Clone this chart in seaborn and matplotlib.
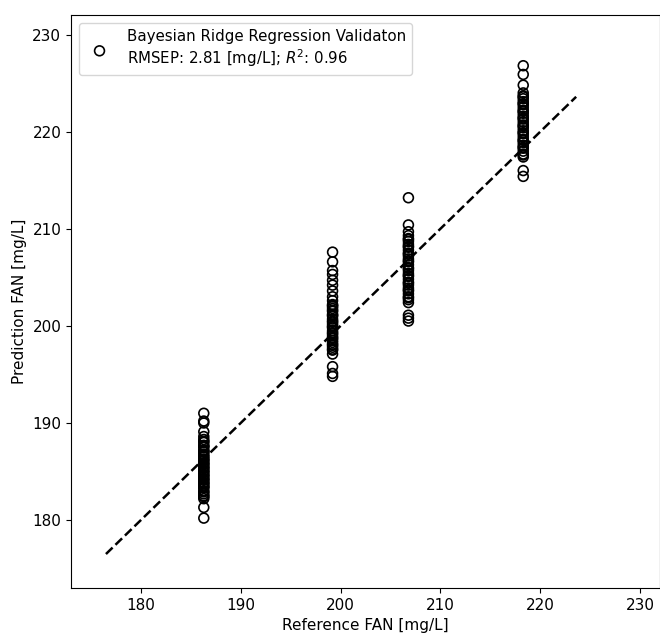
import matplotlib
matplotlib.use("Agg")
import matplotlib.pyplot as plt
import seaborn as sns
import pandas as pd

ref_levels = [186.3, 199.2, 206.8, 218.3]
pred_186 = [191.0, 190.2, 190.0, 189.1, 188.6, 188.3, 188.0, 187.7, 187.5, 187.2,
            187.0, 186.8, 186.5, 186.3, 186.1, 185.9, 185.7, 185.5, 185.3, 185.1,
            184.9, 184.7, 184.5, 184.3, 184.1, 183.9, 183.7, 183.5, 183.3, 183.0,
            182.7, 182.4, 182.2, 181.3, 180.2,
            188.1, 187.6, 187.1, 186.6, 186.2, 185.8, 185.4, 185.0, 184.6, 184.2,
            183.8, 183.4, 182.9, 182.5]
pred_199 = [207.6, 206.6, 205.7, 205.3, 204.7, 204.2, 203.6, 203.0, 202.6, 202.2,
            202.0, 201.8, 201.5, 201.2, 201.0, 200.7, 200.4, 200.2, 200.0, 199.8,
            199.5, 199.2, 199.0, 198.8, 198.5, 198.3, 198.0, 197.8, 197.5, 197.1,
            195.8, 195.1, 194.8,
            202.1, 201.6, 201.1, 200.5, 199.9, 199.3, 198.7, 198.1, 197.6]
pred_207 = [213.2, 210.4, 209.7, 209.3, 209.0, 208.7, 208.4, 208.1, 207.8, 207.5,
            207.2, 206.9, 206.6, 206.3, 206.0, 205.7, 205.4, 205.1, 204.8, 204.5,
            204.2, 203.9, 203.6, 203.3, 203.0, 202.7, 202.4, 201.1, 200.8, 200.5,
            208.9, 208.2, 207.4, 206.7, 205.9, 205.2, 204.4, 203.7, 202.9]
pred_218 = [226.8, 225.9, 224.8, 224.0, 223.7, 223.4, 223.1, 222.8, 222.5, 222.2,
            221.9, 221.6, 221.3, 221.0, 220.7, 220.4, 220.1, 219.8, 219.5, 219.2,
            218.9, 218.6, 218.3, 218.0, 217.7, 217.4, 216.0, 215.4,
            223.6, 222.9, 222.1, 221.4, 220.6, 219.9, 219.1, 218.4, 217.6]
line_range = [176.5, 223.6]
ticks = [180, 190, 200, 210, 220, 230]
legend_label = "Bayesian Ridge Regression Validaton\nRMSEP: 2.81 [mg/L]; $R^2$: 0.96"

rows = []
for xv, ys in zip(ref_levels, [pred_186, pred_199, pred_207, pred_218]):
    for yv in ys:
        rows.append((xv, yv))
df = pd.DataFrame(rows, columns=["ref", "pred"])

fig = plt.figure(figsize=(6.6, 6.35), dpi=100)
ax = fig.add_axes([0.1076, 0.074, 0.8924, 0.902])

sns.scatterplot(data=df, x="ref", y="pred", ax=ax, s=50, facecolors="none",
                edgecolor="black", linewidth=1.2, label=legend_label)
sns.lineplot(x=line_range, y=line_range, ax=ax, color="black", linestyle="--",
             linewidth=1.8)

ax.set_xlim(173.0, 232.0)
ax.set_ylim(173.0, 232.0)
ax.set_xticks(ticks)
ax.set_yticks(ticks)
ax.tick_params(labelsize=11)
ax.set_xlabel("Reference FAN [mg/L]", fontsize=11)
ax.set_ylabel("Prediction FAN [mg/L]", fontsize=11)
ax.legend(loc="upper left", fontsize=10.8)

fig.savefig("out.png", dpi=100)
